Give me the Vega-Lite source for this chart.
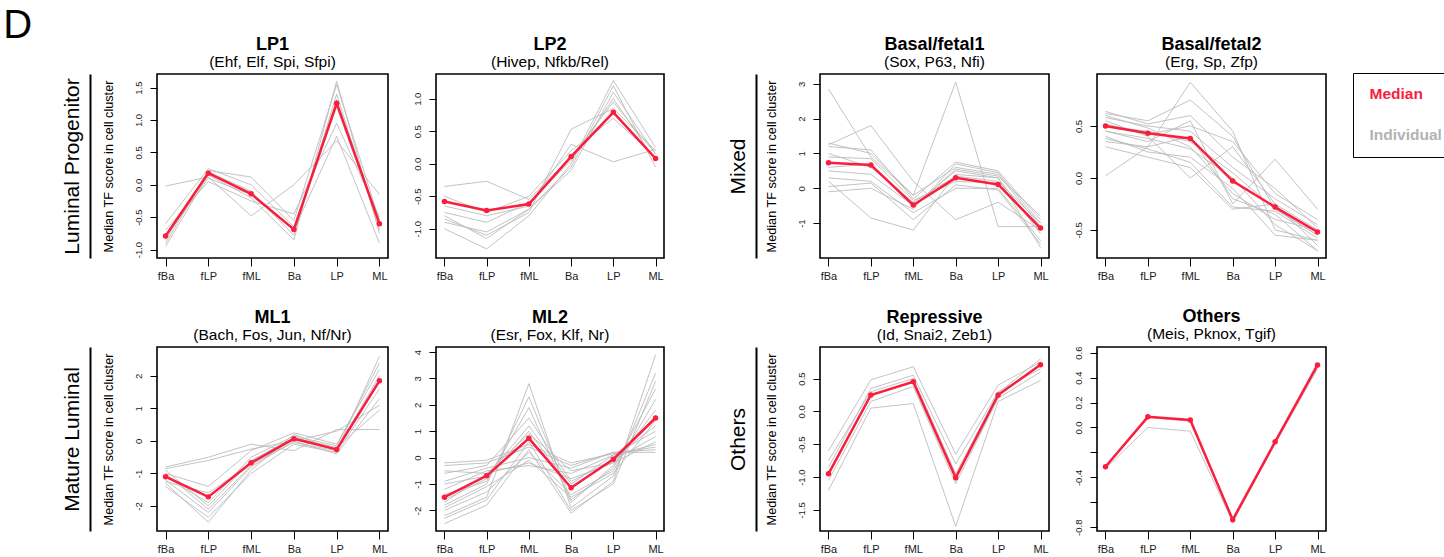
{
"$schema":"https://vega.github.io/schema/vega-lite/v6.json",
"padding":{"left":3,"top":5,"right":0,"bottom":0},
"title":{"text":"D","anchor":"start","frame":"bounds","fontSize":40,"fontWeight":"normal","dx":-57,"offset":-11},
"datasets":{
"LP1":[
{"s":"M","k":0,"x":"fBa","v":-0.79},{"s":"M","k":0,"x":"fLP","v":0.18},{"s":"M","k":0,"x":"fML","v":-0.14},{"s":"M","k":0,"x":"Ba","v":-0.69},{"s":"M","k":0,"x":"LP","v":1.26},{"s":"M","k":0,"x":"ML","v":-0.6},
{"s":"I","k":1,"x":"fBa","v":-0.02},{"s":"I","k":1,"x":"fLP","v":0.12},{"s":"I","k":1,"x":"fML","v":-0.48},{"s":"I","k":1,"x":"Ba","v":0.0},{"s":"I","k":1,"x":"LP","v":0.68},{"s":"I","k":1,"x":"ML","v":-0.15},
{"s":"I","k":2,"x":"fBa","v":-0.85},{"s":"I","k":2,"x":"fLP","v":0.22},{"s":"I","k":2,"x":"fML","v":0.12},{"s":"I","k":2,"x":"Ba","v":-0.55},{"s":"I","k":2,"x":"LP","v":1.55},{"s":"I","k":2,"x":"ML","v":-0.55},
{"s":"I","k":3,"x":"fBa","v":-0.9},{"s":"I","k":3,"x":"fLP","v":0.2},{"s":"I","k":3,"x":"fML","v":-0.1},{"s":"I","k":3,"x":"Ba","v":-0.78},{"s":"I","k":3,"x":"LP","v":1.4},{"s":"I","k":3,"x":"ML","v":-0.7},
{"s":"I","k":4,"x":"fBa","v":-0.7},{"s":"I","k":4,"x":"fLP","v":0.05},{"s":"I","k":4,"x":"fML","v":-0.25},{"s":"I","k":4,"x":"Ba","v":-0.45},{"s":"I","k":4,"x":"LP","v":0.95},{"s":"I","k":4,"x":"ML","v":-0.5},
{"s":"I","k":5,"x":"fBa","v":-0.95},{"s":"I","k":5,"x":"fLP","v":0.15},{"s":"I","k":5,"x":"fML","v":-0.2},{"s":"I","k":5,"x":"Ba","v":-0.85},{"s":"I","k":5,"x":"LP","v":1.6},{"s":"I","k":5,"x":"ML","v":-0.75},
{"s":"I","k":6,"x":"fBa","v":-0.6},{"s":"I","k":6,"x":"fLP","v":0.25},{"s":"I","k":6,"x":"fML","v":0.0},{"s":"I","k":6,"x":"Ba","v":-0.65},{"s":"I","k":6,"x":"LP","v":1.2},{"s":"I","k":6,"x":"ML","v":-0.6},
{"s":"I","k":7,"x":"fBa","v":-0.8},{"s":"I","k":7,"x":"fLP","v":0.1},{"s":"I","k":7,"x":"fML","v":-0.15},{"s":"I","k":7,"x":"Ba","v":-0.7},{"s":"I","k":7,"x":"LP","v":0.75},{"s":"I","k":7,"x":"ML","v":-0.9}
],
"LP2":[
{"s":"M","k":0,"x":"fBa","v":-0.58},{"s":"M","k":0,"x":"fLP","v":-0.72},{"s":"M","k":0,"x":"fML","v":-0.62},{"s":"M","k":0,"x":"Ba","v":0.11},{"s":"M","k":0,"x":"LP","v":0.79},{"s":"M","k":0,"x":"ML","v":0.08},
{"s":"I","k":1,"x":"fBa","v":-0.35},{"s":"I","k":1,"x":"fLP","v":-0.27},{"s":"I","k":1,"x":"fML","v":-0.55},{"s":"I","k":1,"x":"Ba","v":0.1},{"s":"I","k":1,"x":"LP","v":0.95},{"s":"I","k":1,"x":"ML","v":0.15},
{"s":"I","k":2,"x":"fBa","v":-0.85},{"s":"I","k":2,"x":"fLP","v":-1.1},{"s":"I","k":2,"x":"fML","v":-0.75},{"s":"I","k":2,"x":"Ba","v":0.53},{"s":"I","k":2,"x":"LP","v":0.85},{"s":"I","k":2,"x":"ML","v":0.2},
{"s":"I","k":3,"x":"fBa","v":-1.0},{"s":"I","k":3,"x":"fLP","v":-1.31},{"s":"I","k":3,"x":"fML","v":-0.8},{"s":"I","k":3,"x":"Ba","v":0.0},{"s":"I","k":3,"x":"LP","v":1.28},{"s":"I","k":3,"x":"ML","v":0.25},
{"s":"I","k":4,"x":"fBa","v":-0.8},{"s":"I","k":4,"x":"fLP","v":-1.15},{"s":"I","k":4,"x":"fML","v":-0.7},{"s":"I","k":4,"x":"Ba","v":-0.1},{"s":"I","k":4,"x":"LP","v":1.1},{"s":"I","k":4,"x":"ML","v":0.15},
{"s":"I","k":5,"x":"fBa","v":-0.65},{"s":"I","k":5,"x":"fLP","v":-0.8},{"s":"I","k":5,"x":"fML","v":-0.65},{"s":"I","k":5,"x":"Ba","v":0.3},{"s":"I","k":5,"x":"LP","v":0.03},{"s":"I","k":5,"x":"ML","v":0.22},
{"s":"I","k":6,"x":"fBa","v":-0.75},{"s":"I","k":6,"x":"fLP","v":-0.9},{"s":"I","k":6,"x":"fML","v":-0.6},{"s":"I","k":6,"x":"Ba","v":0.05},{"s":"I","k":6,"x":"LP","v":1.0},{"s":"I","k":6,"x":"ML","v":0.05},
{"s":"I","k":7,"x":"fBa","v":-0.5},{"s":"I","k":7,"x":"fLP","v":-0.75},{"s":"I","k":7,"x":"fML","v":-0.5},{"s":"I","k":7,"x":"Ba","v":0.2},{"s":"I","k":7,"x":"LP","v":0.7},{"s":"I","k":7,"x":"ML","v":0.1},
{"s":"I","k":8,"x":"fBa","v":-0.9},{"s":"I","k":8,"x":"fLP","v":-1.05},{"s":"I","k":8,"x":"fML","v":-0.7},{"s":"I","k":8,"x":"Ba","v":-0.05},{"s":"I","k":8,"x":"LP","v":1.2},{"s":"I","k":8,"x":"ML","v":-0.05}
],
"BF1":[
{"s":"M","k":0,"x":"fBa","v":0.73},{"s":"M","k":0,"x":"fLP","v":0.67},{"s":"M","k":0,"x":"fML","v":-0.48},{"s":"M","k":0,"x":"Ba","v":0.3},{"s":"M","k":0,"x":"LP","v":0.11},{"s":"M","k":0,"x":"ML","v":-1.14},
{"s":"I","k":1,"x":"fBa","v":2.85},{"s":"I","k":1,"x":"fLP","v":0.9},{"s":"I","k":1,"x":"fML","v":-0.2},{"s":"I","k":1,"x":"Ba","v":3.05},{"s":"I","k":1,"x":"LP","v":-1.1},{"s":"I","k":1,"x":"ML","v":-1.1},
{"s":"I","k":2,"x":"fBa","v":1.25},{"s":"I","k":2,"x":"fLP","v":1.8},{"s":"I","k":2,"x":"fML","v":0.2},{"s":"I","k":2,"x":"Ba","v":-0.9},{"s":"I","k":2,"x":"LP","v":-0.4},{"s":"I","k":2,"x":"ML","v":-1.2},
{"s":"I","k":3,"x":"fBa","v":-0.1},{"s":"I","k":3,"x":"fLP","v":0.0},{"s":"I","k":3,"x":"fML","v":-0.6},{"s":"I","k":3,"x":"Ba","v":0.7},{"s":"I","k":3,"x":"LP","v":0.45},{"s":"I","k":3,"x":"ML","v":-1.0},
{"s":"I","k":4,"x":"fBa","v":0.2},{"s":"I","k":4,"x":"fLP","v":-0.85},{"s":"I","k":4,"x":"fML","v":-1.2},{"s":"I","k":4,"x":"Ba","v":0.4},{"s":"I","k":4,"x":"LP","v":0.3},{"s":"I","k":4,"x":"ML","v":-1.7},
{"s":"I","k":5,"x":"fBa","v":1.2},{"s":"I","k":5,"x":"fLP","v":1.1},{"s":"I","k":5,"x":"fML","v":-0.3},{"s":"I","k":5,"x":"Ba","v":0.75},{"s":"I","k":5,"x":"LP","v":0.5},{"s":"I","k":5,"x":"ML","v":-0.9},
{"s":"I","k":6,"x":"fBa","v":0.5},{"s":"I","k":6,"x":"fLP","v":0.4},{"s":"I","k":6,"x":"fML","v":-0.5},{"s":"I","k":6,"x":"Ba","v":0.5},{"s":"I","k":6,"x":"LP","v":0.3},{"s":"I","k":6,"x":"ML","v":-1.3},
{"s":"I","k":7,"x":"fBa","v":0.9},{"s":"I","k":7,"x":"fLP","v":0.85},{"s":"I","k":7,"x":"fML","v":-0.35},{"s":"I","k":7,"x":"Ba","v":0.2},{"s":"I","k":7,"x":"LP","v":0.15},{"s":"I","k":7,"x":"ML","v":-1.2},
{"s":"I","k":8,"x":"fBa","v":0.3},{"s":"I","k":8,"x":"fLP","v":0.2},{"s":"I","k":8,"x":"fML","v":-0.7},{"s":"I","k":8,"x":"Ba","v":0.0},{"s":"I","k":8,"x":"LP","v":0.0},{"s":"I","k":8,"x":"ML","v":-1.5},
{"s":"I","k":9,"x":"fBa","v":1.0},{"s":"I","k":9,"x":"fLP","v":0.6},{"s":"I","k":9,"x":"fML","v":-0.4},{"s":"I","k":9,"x":"Ba","v":0.35},{"s":"I","k":9,"x":"LP","v":0.2},{"s":"I","k":9,"x":"ML","v":-1.0},
{"s":"I","k":10,"x":"fBa","v":0.6},{"s":"I","k":10,"x":"fLP","v":0.7},{"s":"I","k":10,"x":"fML","v":-0.55},{"s":"I","k":10,"x":"Ba","v":0.55},{"s":"I","k":10,"x":"LP","v":0.35},{"s":"I","k":10,"x":"ML","v":-0.8},
{"s":"I","k":11,"x":"fBa","v":0.05},{"s":"I","k":11,"x":"fLP","v":0.15},{"s":"I","k":11,"x":"fML","v":-0.9},{"s":"I","k":11,"x":"Ba","v":0.1},{"s":"I","k":11,"x":"LP","v":-0.05},{"s":"I","k":11,"x":"ML","v":-1.6},
{"s":"I","k":12,"x":"fBa","v":1.3},{"s":"I","k":12,"x":"fLP","v":1.0},{"s":"I","k":12,"x":"fML","v":-0.2},{"s":"I","k":12,"x":"Ba","v":0.6},{"s":"I","k":12,"x":"LP","v":0.4},{"s":"I","k":12,"x":"ML","v":-1.1}
],
"BF2":[
{"s":"M","k":0,"x":"fBa","v":0.5},{"s":"M","k":0,"x":"fLP","v":0.43},{"s":"M","k":0,"x":"fML","v":0.38},{"s":"M","k":0,"x":"Ba","v":-0.03},{"s":"M","k":0,"x":"LP","v":-0.28},{"s":"M","k":0,"x":"ML","v":-0.52},
{"s":"I","k":1,"x":"fBa","v":0.02},{"s":"I","k":1,"x":"fLP","v":0.3},{"s":"I","k":1,"x":"fML","v":0.92},{"s":"I","k":1,"x":"Ba","v":0.45},{"s":"I","k":1,"x":"LP","v":-0.5},{"s":"I","k":1,"x":"ML","v":-0.6},
{"s":"I","k":2,"x":"fBa","v":0.62},{"s":"I","k":2,"x":"fLP","v":0.55},{"s":"I","k":2,"x":"fML","v":0.75},{"s":"I","k":2,"x":"Ba","v":0.4},{"s":"I","k":2,"x":"LP","v":-0.3},{"s":"I","k":2,"x":"ML","v":-0.55},
{"s":"I","k":3,"x":"fBa","v":0.55},{"s":"I","k":3,"x":"fLP","v":0.4},{"s":"I","k":3,"x":"fML","v":0.0},{"s":"I","k":3,"x":"Ba","v":0.3},{"s":"I","k":3,"x":"LP","v":-0.25},{"s":"I","k":3,"x":"ML","v":-0.5},
{"s":"I","k":4,"x":"fBa","v":0.45},{"s":"I","k":4,"x":"fLP","v":0.35},{"s":"I","k":4,"x":"fML","v":0.55},{"s":"I","k":4,"x":"Ba","v":-0.25},{"s":"I","k":4,"x":"LP","v":0.18},{"s":"I","k":4,"x":"ML","v":-0.3},
{"s":"I","k":5,"x":"fBa","v":0.4},{"s":"I","k":5,"x":"fLP","v":0.25},{"s":"I","k":5,"x":"fML","v":0.2},{"s":"I","k":5,"x":"Ba","v":-0.1},{"s":"I","k":5,"x":"LP","v":-0.55},{"s":"I","k":5,"x":"ML","v":-0.6},
{"s":"I","k":6,"x":"fBa","v":0.58},{"s":"I","k":6,"x":"fLP","v":0.5},{"s":"I","k":6,"x":"fML","v":0.45},{"s":"I","k":6,"x":"Ba","v":0.1},{"s":"I","k":6,"x":"LP","v":-0.2},{"s":"I","k":6,"x":"ML","v":-0.45},
{"s":"I","k":7,"x":"fBa","v":0.35},{"s":"I","k":7,"x":"fLP","v":0.3},{"s":"I","k":7,"x":"fML","v":0.4},{"s":"I","k":7,"x":"Ba","v":-0.2},{"s":"I","k":7,"x":"LP","v":-0.35},{"s":"I","k":7,"x":"ML","v":-0.7},
{"s":"I","k":8,"x":"fBa","v":0.5},{"s":"I","k":8,"x":"fLP","v":0.45},{"s":"I","k":8,"x":"fML","v":0.35},{"s":"I","k":8,"x":"Ba","v":0.05},{"s":"I","k":8,"x":"LP","v":-0.3},{"s":"I","k":8,"x":"ML","v":-0.55},
{"s":"I","k":9,"x":"fBa","v":0.6},{"s":"I","k":9,"x":"fLP","v":0.48},{"s":"I","k":9,"x":"fML","v":0.3},{"s":"I","k":9,"x":"Ba","v":-0.15},{"s":"I","k":9,"x":"LP","v":-0.4},{"s":"I","k":9,"x":"ML","v":-0.5},
{"s":"I","k":10,"x":"fBa","v":0.3},{"s":"I","k":10,"x":"fLP","v":0.2},{"s":"I","k":10,"x":"fML","v":0.1},{"s":"I","k":10,"x":"Ba","v":-0.3},{"s":"I","k":10,"x":"LP","v":-0.25},{"s":"I","k":10,"x":"ML","v":-0.65},
{"s":"I","k":11,"x":"fBa","v":0.52},{"s":"I","k":11,"x":"fLP","v":0.42},{"s":"I","k":11,"x":"fML","v":0.5},{"s":"I","k":11,"x":"Ba","v":0.35},{"s":"I","k":11,"x":"LP","v":-0.15},{"s":"I","k":11,"x":"ML","v":-0.4},
{"s":"I","k":12,"x":"fBa","v":0.45},{"s":"I","k":12,"x":"fLP","v":0.38},{"s":"I","k":12,"x":"fML","v":0.28},{"s":"I","k":12,"x":"Ba","v":0.0},{"s":"I","k":12,"x":"LP","v":-0.45},{"s":"I","k":12,"x":"ML","v":-0.7},
{"s":"I","k":13,"x":"fBa","v":0.64},{"s":"I","k":13,"x":"fLP","v":0.52},{"s":"I","k":13,"x":"fML","v":0.6},{"s":"I","k":13,"x":"Ba","v":0.2},{"s":"I","k":13,"x":"LP","v":-0.1},{"s":"I","k":13,"x":"ML","v":-0.48},
{"s":"I","k":14,"x":"fBa","v":0.38},{"s":"I","k":14,"x":"fLP","v":0.28},{"s":"I","k":14,"x":"fML","v":0.15},{"s":"I","k":14,"x":"Ba","v":-0.28},{"s":"I","k":14,"x":"LP","v":-0.32},{"s":"I","k":14,"x":"ML","v":-0.58}
],
"ML1":[
{"s":"M","k":0,"x":"fBa","v":-1.1},{"s":"M","k":0,"x":"fLP","v":-1.72},{"s":"M","k":0,"x":"fML","v":-0.67},{"s":"M","k":0,"x":"Ba","v":0.07},{"s":"M","k":0,"x":"LP","v":-0.26},{"s":"M","k":0,"x":"ML","v":1.85},
{"s":"I","k":1,"x":"fBa","v":-0.8},{"s":"I","k":1,"x":"fLP","v":-0.5},{"s":"I","k":1,"x":"fML","v":-0.1},{"s":"I","k":1,"x":"Ba","v":-0.3},{"s":"I","k":1,"x":"LP","v":0.35},{"s":"I","k":1,"x":"ML","v":0.35},
{"s":"I","k":2,"x":"fBa","v":-1.3},{"s":"I","k":2,"x":"fLP","v":-2.5},{"s":"I","k":2,"x":"fML","v":-0.9},{"s":"I","k":2,"x":"Ba","v":0.2},{"s":"I","k":2,"x":"LP","v":-0.3},{"s":"I","k":2,"x":"ML","v":2.6},
{"s":"I","k":3,"x":"fBa","v":-1.0},{"s":"I","k":3,"x":"fLP","v":-1.4},{"s":"I","k":3,"x":"fML","v":-0.3},{"s":"I","k":3,"x":"Ba","v":0.25},{"s":"I","k":3,"x":"LP","v":-0.1},{"s":"I","k":3,"x":"ML","v":2.2},
{"s":"I","k":4,"x":"fBa","v":-1.2},{"s":"I","k":4,"x":"fLP","v":-2.2},{"s":"I","k":4,"x":"fML","v":-0.8},{"s":"I","k":4,"x":"Ba","v":0.0},{"s":"I","k":4,"x":"LP","v":-0.4},{"s":"I","k":4,"x":"ML","v":1.3},
{"s":"I","k":5,"x":"fBa","v":-0.9},{"s":"I","k":5,"x":"fLP","v":-2.0},{"s":"I","k":5,"x":"fML","v":-0.6},{"s":"I","k":5,"x":"Ba","v":0.1},{"s":"I","k":5,"x":"LP","v":-0.2},{"s":"I","k":5,"x":"ML","v":0.95},
{"s":"I","k":6,"x":"fBa","v":-1.4},{"s":"I","k":6,"x":"fLP","v":-2.35},{"s":"I","k":6,"x":"fML","v":-1.0},{"s":"I","k":6,"x":"Ba","v":-0.1},{"s":"I","k":6,"x":"LP","v":-0.35},{"s":"I","k":6,"x":"ML","v":1.6},
{"s":"I","k":7,"x":"fBa","v":-1.1},{"s":"I","k":7,"x":"fLP","v":-1.9},{"s":"I","k":7,"x":"fML","v":-0.5},{"s":"I","k":7,"x":"Ba","v":0.15},{"s":"I","k":7,"x":"LP","v":-0.15},{"s":"I","k":7,"x":"ML","v":2.4},
{"s":"I","k":8,"x":"fBa","v":-0.85},{"s":"I","k":8,"x":"fLP","v":-0.6},{"s":"I","k":8,"x":"fML","v":-0.25},{"s":"I","k":8,"x":"Ba","v":0.0},{"s":"I","k":8,"x":"LP","v":0.3},{"s":"I","k":8,"x":"ML","v":1.1},
{"s":"I","k":9,"x":"fBa","v":-1.25},{"s":"I","k":9,"x":"fLP","v":-1.6},{"s":"I","k":9,"x":"fML","v":-0.7},{"s":"I","k":9,"x":"Ba","v":-0.05},{"s":"I","k":9,"x":"LP","v":-0.3},{"s":"I","k":9,"x":"ML","v":1.9},
{"s":"I","k":10,"x":"fBa","v":-1.0},{"s":"I","k":10,"x":"fLP","v":-2.1},{"s":"I","k":10,"x":"fML","v":-0.75},{"s":"I","k":10,"x":"Ba","v":0.05},{"s":"I","k":10,"x":"LP","v":-0.25},{"s":"I","k":10,"x":"ML","v":2.0}
],
"ML2":[
{"s":"M","k":0,"x":"fBa","v":-1.5},{"s":"M","k":0,"x":"fLP","v":-0.69},{"s":"M","k":0,"x":"fML","v":0.73},{"s":"M","k":0,"x":"Ba","v":-1.14},{"s":"M","k":0,"x":"LP","v":-0.06},{"s":"M","k":0,"x":"ML","v":1.5},
{"s":"I","k":1,"x":"fBa","v":-2.5},{"s":"I","k":1,"x":"fLP","v":-1.8},{"s":"I","k":1,"x":"fML","v":0.3},{"s":"I","k":1,"x":"Ba","v":-2.1},{"s":"I","k":1,"x":"LP","v":-0.9},{"s":"I","k":1,"x":"ML","v":3.9},
{"s":"I","k":2,"x":"fBa","v":-2.2},{"s":"I","k":2,"x":"fLP","v":-1.5},{"s":"I","k":2,"x":"fML","v":2.8},{"s":"I","k":2,"x":"Ba","v":-1.9},{"s":"I","k":2,"x":"LP","v":-0.7},{"s":"I","k":2,"x":"ML","v":3.2},
{"s":"I","k":3,"x":"fBa","v":-0.3},{"s":"I","k":3,"x":"fLP","v":-0.2},{"s":"I","k":3,"x":"fML","v":0.4},{"s":"I","k":3,"x":"Ba","v":-0.3},{"s":"I","k":3,"x":"LP","v":0.2},{"s":"I","k":3,"x":"ML","v":0.2},
{"s":"I","k":4,"x":"fBa","v":-1.8},{"s":"I","k":4,"x":"fLP","v":-1.0},{"s":"I","k":4,"x":"fML","v":2.3},{"s":"I","k":4,"x":"Ba","v":-1.6},{"s":"I","k":4,"x":"LP","v":-0.4},{"s":"I","k":4,"x":"ML","v":2.6},
{"s":"I","k":5,"x":"fBa","v":-1.2},{"s":"I","k":5,"x":"fLP","v":-0.5},{"s":"I","k":5,"x":"fML","v":-0.3},{"s":"I","k":5,"x":"Ba","v":-0.6},{"s":"I","k":5,"x":"LP","v":0.1},{"s":"I","k":5,"x":"ML","v":0.5},
{"s":"I","k":6,"x":"fBa","v":-0.6},{"s":"I","k":6,"x":"fLP","v":-0.3},{"s":"I","k":6,"x":"fML","v":1.5},{"s":"I","k":6,"x":"Ba","v":-0.9},{"s":"I","k":6,"x":"LP","v":-0.1},{"s":"I","k":6,"x":"ML","v":0.8},
{"s":"I","k":7,"x":"fBa","v":-2.0},{"s":"I","k":7,"x":"fLP","v":-1.3},{"s":"I","k":7,"x":"fML","v":0.2},{"s":"I","k":7,"x":"Ba","v":-1.4},{"s":"I","k":7,"x":"LP","v":-0.5},{"s":"I","k":7,"x":"ML","v":2.2},
{"s":"I","k":8,"x":"fBa","v":-1.6},{"s":"I","k":8,"x":"fLP","v":-0.8},{"s":"I","k":8,"x":"fML","v":1.0},{"s":"I","k":8,"x":"Ba","v":-1.2},{"s":"I","k":8,"x":"LP","v":0.0},{"s":"I","k":8,"x":"ML","v":1.2},
{"s":"I","k":9,"x":"fBa","v":-0.9},{"s":"I","k":9,"x":"fLP","v":-0.4},{"s":"I","k":9,"x":"fML","v":0.0},{"s":"I","k":9,"x":"Ba","v":-0.4},{"s":"I","k":9,"x":"LP","v":0.2},{"s":"I","k":9,"x":"ML","v":0.3},
{"s":"I","k":10,"x":"fBa","v":-1.4},{"s":"I","k":10,"x":"fLP","v":-0.9},{"s":"I","k":10,"x":"fML","v":1.9},{"s":"I","k":10,"x":"Ba","v":-1.7},{"s":"I","k":10,"x":"LP","v":-0.3},{"s":"I","k":10,"x":"ML","v":1.8},
{"s":"I","k":11,"x":"fBa","v":-0.5},{"s":"I","k":11,"x":"fLP","v":-0.6},{"s":"I","k":11,"x":"fML","v":-0.2},{"s":"I","k":11,"x":"Ba","v":-0.8},{"s":"I","k":11,"x":"LP","v":-0.2},{"s":"I","k":11,"x":"ML","v":0.6},
{"s":"I","k":12,"x":"fBa","v":-2.3},{"s":"I","k":12,"x":"fLP","v":-1.6},{"s":"I","k":12,"x":"fML","v":0.6},{"s":"I","k":12,"x":"Ba","v":-2.0},{"s":"I","k":12,"x":"LP","v":-1.0},{"s":"I","k":12,"x":"ML","v":2.9},
{"s":"I","k":13,"x":"fBa","v":-1.0},{"s":"I","k":13,"x":"fLP","v":-0.7},{"s":"I","k":13,"x":"fML","v":1.2},{"s":"I","k":13,"x":"Ba","v":-1.0},{"s":"I","k":13,"x":"LP","v":0.1},{"s":"I","k":13,"x":"ML","v":1.0},
{"s":"I","k":14,"x":"fBa","v":-1.9},{"s":"I","k":14,"x":"fLP","v":-1.1},{"s":"I","k":14,"x":"fML","v":-0.1},{"s":"I","k":14,"x":"Ba","v":-1.5},{"s":"I","k":14,"x":"LP","v":-0.6},{"s":"I","k":14,"x":"ML","v":1.4},
{"s":"I","k":15,"x":"fBa","v":-0.2},{"s":"I","k":15,"x":"fLP","v":-0.1},{"s":"I","k":15,"x":"fML","v":0.5},{"s":"I","k":15,"x":"Ba","v":-0.2},{"s":"I","k":15,"x":"LP","v":0.15},{"s":"I","k":15,"x":"ML","v":0.4},
{"s":"I","k":16,"x":"fBa","v":-1.7},{"s":"I","k":16,"x":"fLP","v":-0.6},{"s":"I","k":16,"x":"fML","v":0.9},{"s":"I","k":16,"x":"Ba","v":-0.5},{"s":"I","k":16,"x":"LP","v":-0.2},{"s":"I","k":16,"x":"ML","v":1.6}
],
"REP":[
{"s":"M","k":0,"x":"fBa","v":-0.95},{"s":"M","k":0,"x":"fLP","v":0.25},{"s":"M","k":0,"x":"fML","v":0.45},{"s":"M","k":0,"x":"Ba","v":-1.01},{"s":"M","k":0,"x":"LP","v":0.25},{"s":"M","k":0,"x":"ML","v":0.71},
{"s":"I","k":1,"x":"fBa","v":-0.6},{"s":"I","k":1,"x":"fLP","v":0.48},{"s":"I","k":1,"x":"fML","v":0.68},{"s":"I","k":1,"x":"Ba","v":-0.65},{"s":"I","k":1,"x":"LP","v":0.4},{"s":"I","k":1,"x":"ML","v":0.75},
{"s":"I","k":2,"x":"fBa","v":-1.2},{"s":"I","k":2,"x":"fLP","v":0.05},{"s":"I","k":2,"x":"fML","v":0.12},{"s":"I","k":2,"x":"Ba","v":-1.75},{"s":"I","k":2,"x":"LP","v":0.15},{"s":"I","k":2,"x":"ML","v":0.47},
{"s":"I","k":3,"x":"fBa","v":-0.85},{"s":"I","k":3,"x":"fLP","v":0.35},{"s":"I","k":3,"x":"fML","v":0.55},{"s":"I","k":3,"x":"Ba","v":-0.8},{"s":"I","k":3,"x":"LP","v":0.3},{"s":"I","k":3,"x":"ML","v":0.65},
{"s":"I","k":4,"x":"fBa","v":-1.05},{"s":"I","k":4,"x":"fLP","v":0.15},{"s":"I","k":4,"x":"fML","v":0.38},{"s":"I","k":4,"x":"Ba","v":-1.1},{"s":"I","k":4,"x":"LP","v":0.2},{"s":"I","k":4,"x":"ML","v":0.6},
{"s":"I","k":5,"x":"fBa","v":-0.75},{"s":"I","k":5,"x":"fLP","v":0.3},{"s":"I","k":5,"x":"fML","v":0.5},{"s":"I","k":5,"x":"Ba","v":-0.95},{"s":"I","k":5,"x":"LP","v":0.28},{"s":"I","k":5,"x":"ML","v":0.8}
],
"OTH":[
{"s":"M","k":0,"x":"fBa","v":-0.315},{"s":"M","k":0,"x":"fLP","v":0.085},{"s":"M","k":0,"x":"fML","v":0.06},{"s":"M","k":0,"x":"Ba","v":-0.74},{"s":"M","k":0,"x":"LP","v":-0.115},{"s":"M","k":0,"x":"ML","v":0.5},
{"s":"I","k":1,"x":"fBa","v":-0.33},{"s":"I","k":1,"x":"fLP","v":0.0},{"s":"I","k":1,"x":"fML","v":-0.03},{"s":"I","k":1,"x":"Ba","v":-0.76},{"s":"I","k":1,"x":"LP","v":-0.13},{"s":"I","k":1,"x":"ML","v":0.47},
{"s":"I","k":2,"x":"fBa","v":-0.31},{"s":"I","k":2,"x":"fLP","v":0.08},{"s":"I","k":2,"x":"fML","v":0.05},{"s":"I","k":2,"x":"Ba","v":-0.74},{"s":"I","k":2,"x":"LP","v":-0.12},{"s":"I","k":2,"x":"ML","v":0.52}
]
},
"columns":5,
"spacing":{"row":89,"column":48},
"bounds":"flush",
"align":"each",
"concat":[
{"width":231,"height":184,"data":{"name":"LP1"},"title":{"text":"LP1","subtitle":"(Ehf, Elf, Spi, Sfpi)"},
 "encoding":{"x":{"field":"x","type":"ordinal","scale":{"type":"point","domain":["fBa","fLP","fML","Ba","LP","ML"],"padding":0.2},"axis":{"title":null}},
  "y":{"field":"v","type":"quantitative","scale":{"domain":[-1.13,1.71],"nice":false,"zero":false},"axis":{"values":[-1,-0.5,0,0.5,1,1.5],"format":".1f","title":"Median TF score in cell cluster"}},
  "color":{"field":"s","type":"nominal","scale":{"domain":["M","I"],"range":["#fa1e3c","#b8b8b8"]},"legend":{"title":null,"orient":"none","legendX":1196,"legendY":-1,"strokeColor":"black","padding":13,"symbolSize":0,"symbolOpacity":0,"labelFontSize":15.5,"labelFontWeight":"bold","labelOffset":-12,"rowPadding":24,"labelExpr":"datum.value == 'M' ? 'Median' : 'Individual'","labelColor":{"expr":"datum.value == 'M' ? '#fa1e3c' : '#b3b3b3'"}}}},
 "layer":[
  {"transform":[{"filter":"datum.s == 'I'"}],"mark":{"type":"line","strokeWidth":1,"opacity":0.85},"encoding":{"detail":{"field":"k","type":"nominal"}}},
  {"transform":[{"filter":"datum.s == 'M'"}],"mark":{"type":"line","strokeWidth":2.5},"encoding":{"y":{"field":"v","type":"quantitative","scale":{"domain":[-1.13,1.71],"nice":false,"zero":false},"axis":{"orient":"left","offset":67,"title":"Luminal Progenitor","titleFontSize":21,"titlePadding":8,"labels":false,"ticks":false,"domain":true,"domainColor":"black","domainWidth":2,"values":[]}}}},
  {"transform":[{"filter":"datum.s == 'M'"}],"mark":{"type":"point","filled":true,"size":30,"opacity":1},"encoding":{"y":{"field":"v","type":"quantitative","scale":{"domain":[-1.13,1.71],"nice":false,"zero":false},"axis":null}}}
 ],
 "resolve":{"axis":{"y":"independent"}}},
{"width":228,"height":184,"data":{"name":"LP2"},"title":{"text":"LP2","subtitle":"(Hivep, Nfkb/Rel)"},
 "encoding":{"x":{"field":"x","type":"ordinal","scale":{"type":"point","domain":["fBa","fLP","fML","Ba","LP","ML"],"padding":0.2},"axis":{"title":null}},
  "y":{"field":"v","type":"quantitative","scale":{"domain":[-1.45,1.38],"nice":false,"zero":false},"axis":{"values":[-1,-0.5,0,0.5,1],"format":".1f","title":null}},
  "color":{"field":"s","type":"nominal","scale":{"domain":["M","I"],"range":["#fa1e3c","#b8b8b8"]}}},
 "layer":[
  {"transform":[{"filter":"datum.s == 'I'"}],"mark":{"type":"line","strokeWidth":1,"opacity":0.85},"encoding":{"detail":{"field":"k","type":"nominal"}}},
  {"transform":[{"filter":"datum.s == 'M'"}],"mark":{"type":"line","strokeWidth":2.5}},
  {"transform":[{"filter":"datum.s == 'M'"}],"mark":{"type":"point","filled":true,"size":30,"opacity":1}}
 ]},
{"width":60,"height":184,"data":{"values":[]},"mark":"point","view":{"stroke":null}},
{"width":229,"height":184,"data":{"name":"BF1"},"title":{"text":"Basal/fetal1","subtitle":"(Sox, P63, Nfi)"},
 "encoding":{"x":{"field":"x","type":"ordinal","scale":{"type":"point","domain":["fBa","fLP","fML","Ba","LP","ML"],"padding":0.2},"axis":{"title":null}},
  "y":{"field":"v","type":"quantitative","scale":{"domain":[-2.0,3.28],"nice":false,"zero":false},"axis":{"values":[-1,0,1,2,3],"format":"d","title":"Median TF score in cell cluster"}},
  "color":{"field":"s","type":"nominal","scale":{"domain":["M","I"],"range":["#fa1e3c","#b8b8b8"]}}},
 "layer":[
  {"transform":[{"filter":"datum.s == 'I'"}],"mark":{"type":"line","strokeWidth":1,"opacity":0.85},"encoding":{"detail":{"field":"k","type":"nominal"}}},
  {"transform":[{"filter":"datum.s == 'M'"}],"mark":{"type":"line","strokeWidth":2.5},"encoding":{"y":{"field":"v","type":"quantitative","scale":{"domain":[-2.0,3.28],"nice":false,"zero":false},"axis":{"orient":"left","offset":64,"title":"Mixed","titleFontSize":21,"titlePadding":8,"labels":false,"ticks":false,"domain":true,"domainColor":"black","domainWidth":2,"values":[]}}}},
  {"transform":[{"filter":"datum.s == 'M'"}],"mark":{"type":"point","filled":true,"size":30,"opacity":1},"encoding":{"y":{"field":"v","type":"quantitative","scale":{"domain":[-2.0,3.28],"nice":false,"zero":false},"axis":null}}}
 ],
 "resolve":{"axis":{"y":"independent"}}},
{"width":229,"height":184,"data":{"name":"BF2"},"title":{"text":"Basal/fetal2","subtitle":"(Erg, Sp, Zfp)"},
 "encoding":{"x":{"field":"x","type":"ordinal","scale":{"type":"point","domain":["fBa","fLP","fML","Ba","LP","ML"],"padding":0.2},"axis":{"title":null}},
  "y":{"field":"v","type":"quantitative","scale":{"domain":[-0.77,1.0],"nice":false,"zero":false},"axis":{"values":[-0.5,0,0.5],"format":".1f","title":null}},
  "color":{"field":"s","type":"nominal","scale":{"domain":["M","I"],"range":["#fa1e3c","#b8b8b8"]}}},
 "layer":[
  {"transform":[{"filter":"datum.s == 'I'"}],"mark":{"type":"line","strokeWidth":1,"opacity":0.85},"encoding":{"detail":{"field":"k","type":"nominal"}}},
  {"transform":[{"filter":"datum.s == 'M'"}],"mark":{"type":"line","strokeWidth":2.5}},
  {"transform":[{"filter":"datum.s == 'M'"}],"mark":{"type":"point","filled":true,"size":30,"opacity":1}}
 ]},
{"width":231,"height":184,"data":{"name":"ML1"},"title":{"text":"ML1","subtitle":"(Bach, Fos, Jun, Nf/Nr)"},
 "encoding":{"x":{"field":"x","type":"ordinal","scale":{"type":"point","domain":["fBa","fLP","fML","Ba","LP","ML"],"padding":0.2},"axis":{"title":null}},
  "y":{"field":"v","type":"quantitative","scale":{"domain":[-2.77,2.89],"nice":false,"zero":false},"axis":{"values":[-2,-1,0,1,2],"format":"d","title":"Median TF score in cell cluster"}},
  "color":{"field":"s","type":"nominal","scale":{"domain":["M","I"],"range":["#fa1e3c","#b8b8b8"]}}},
 "layer":[
  {"transform":[{"filter":"datum.s == 'I'"}],"mark":{"type":"line","strokeWidth":1,"opacity":0.85},"encoding":{"detail":{"field":"k","type":"nominal"}}},
  {"transform":[{"filter":"datum.s == 'M'"}],"mark":{"type":"line","strokeWidth":2.5},"encoding":{"y":{"field":"v","type":"quantitative","scale":{"domain":[-2.77,2.89],"nice":false,"zero":false},"axis":{"orient":"left","offset":67,"title":"Mature Luminal","titleFontSize":21,"titlePadding":8,"labels":false,"ticks":false,"domain":true,"domainColor":"black","domainWidth":2,"values":[]}}}},
  {"transform":[{"filter":"datum.s == 'M'"}],"mark":{"type":"point","filled":true,"size":30,"opacity":1},"encoding":{"y":{"field":"v","type":"quantitative","scale":{"domain":[-2.77,2.89],"nice":false,"zero":false},"axis":null}}}
 ],
 "resolve":{"axis":{"y":"independent"}}},
{"width":228,"height":184,"data":{"name":"ML2"},"title":{"text":"ML2","subtitle":"(Esr, Fox, Klf, Nr)"},
 "encoding":{"x":{"field":"x","type":"ordinal","scale":{"type":"point","domain":["fBa","fLP","fML","Ba","LP","ML"],"padding":0.2},"axis":{"title":null}},
  "y":{"field":"v","type":"quantitative","scale":{"domain":[-2.78,4.19],"nice":false,"zero":false},"axis":{"values":[-2,-1,0,1,2,3,4],"format":"d","title":null}},
  "color":{"field":"s","type":"nominal","scale":{"domain":["M","I"],"range":["#fa1e3c","#b8b8b8"]}}},
 "layer":[
  {"transform":[{"filter":"datum.s == 'I'"}],"mark":{"type":"line","strokeWidth":1,"opacity":0.85},"encoding":{"detail":{"field":"k","type":"nominal"}}},
  {"transform":[{"filter":"datum.s == 'M'"}],"mark":{"type":"line","strokeWidth":2.5}},
  {"transform":[{"filter":"datum.s == 'M'"}],"mark":{"type":"point","filled":true,"size":30,"opacity":1}}
 ]},
{"width":60,"height":184,"data":{"values":[]},"mark":"point","view":{"stroke":null}},
{"width":229,"height":184,"data":{"name":"REP"},"title":{"text":"Repressive","subtitle":"(Id, Snai2, Zeb1)"},
 "encoding":{"x":{"field":"x","type":"ordinal","scale":{"type":"point","domain":["fBa","fLP","fML","Ba","LP","ML"],"padding":0.2},"axis":{"title":null}},
  "y":{"field":"v","type":"quantitative","scale":{"domain":[-1.82,0.98],"nice":false,"zero":false},"axis":{"values":[-1.5,-1,-0.5,0,0.5],"format":".1f","title":"Median TF score in cell cluster"}},
  "color":{"field":"s","type":"nominal","scale":{"domain":["M","I"],"range":["#fa1e3c","#b8b8b8"]}}},
 "layer":[
  {"transform":[{"filter":"datum.s == 'I'"}],"mark":{"type":"line","strokeWidth":1,"opacity":0.85},"encoding":{"detail":{"field":"k","type":"nominal"}}},
  {"transform":[{"filter":"datum.s == 'M'"}],"mark":{"type":"line","strokeWidth":2.5},"encoding":{"y":{"field":"v","type":"quantitative","scale":{"domain":[-1.82,0.98],"nice":false,"zero":false},"axis":{"orient":"left","offset":64,"title":"Others","titleFontSize":21,"titlePadding":8,"labels":false,"ticks":false,"domain":true,"domainColor":"black","domainWidth":2,"values":[]}}}},
  {"transform":[{"filter":"datum.s == 'M'"}],"mark":{"type":"point","filled":true,"size":30,"opacity":1},"encoding":{"y":{"field":"v","type":"quantitative","scale":{"domain":[-1.82,0.98],"nice":false,"zero":false},"axis":null}}}
 ],
 "resolve":{"axis":{"y":"independent"}}},
{"width":229,"height":184,"data":{"name":"OTH"},"title":{"text":"Others","subtitle":"(Meis, Pknox, Tgif)"},
 "encoding":{"x":{"field":"x","type":"ordinal","scale":{"type":"point","domain":["fBa","fLP","fML","Ba","LP","ML"],"padding":0.2},"axis":{"title":null}},
  "y":{"field":"v","type":"quantitative","scale":{"domain":[-0.83,0.645],"nice":false,"zero":false},"axis":{"values":[-0.8,-0.6,-0.4,-0.2,0,0.2,0.4,0.6],"format":".1f","title":null,"labelExpr":"datum.value == -0.6 || datum.value == -0.2 ? '' : replace(datum.label, '\u2212', '-')"}},
  "color":{"field":"s","type":"nominal","scale":{"domain":["M","I"],"range":["#fa1e3c","#b8b8b8"]}}},
 "layer":[
  {"transform":[{"filter":"datum.s == 'I'"}],"mark":{"type":"line","strokeWidth":1,"opacity":0.85},"encoding":{"detail":{"field":"k","type":"nominal"}}},
  {"transform":[{"filter":"datum.s == 'M'"}],"mark":{"type":"line","strokeWidth":2.5}},
  {"transform":[{"filter":"datum.s == 'M'"}],"mark":{"type":"point","filled":true,"size":30,"opacity":1}}
 ]}
],
"config":{
 "font":"Liberation Sans",
 "view":{"stroke":"black","strokeWidth":1.6},
 "title":{"fontSize":18,"fontWeight":"bold","subtitleFontSize":15.5,"subtitleColor":"black","subtitleFont":"Liberation Sans","subtitlePadding":1,"offset":4,"color":"black"},
 "axis":{"domain":false,"grid":false,"tickColor":"black","labelColor":"#1a1a1a","titleColor":"black","titleFontWeight":"normal","labelFlush":false},
 "axisX":{"labelAngle":0,"labelFontSize":11,"labelPadding":4,"tickSize":8},
 "axisY":{"labelAngle":270,"labelFontSize":9.5,"labelPadding":7,"tickSize":7,"titleFontSize":12.7,"titlePadding":18,"labelExpr":"replace(datum.label, '\u2212', '-')"}
}
}
